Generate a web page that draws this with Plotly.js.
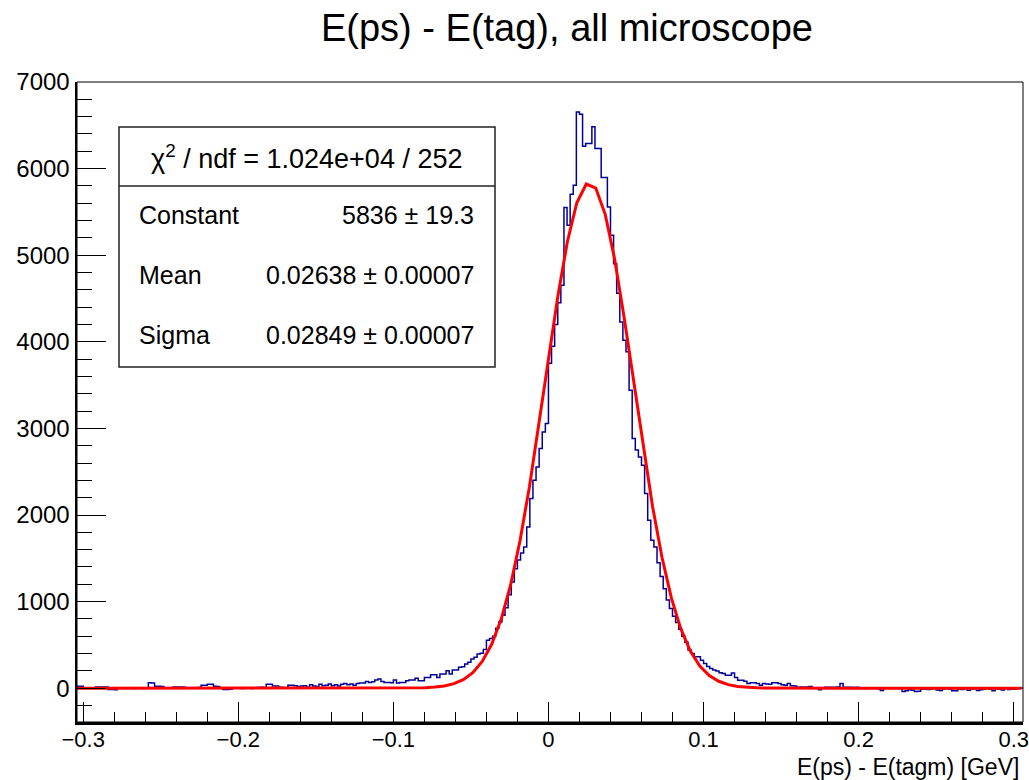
<!DOCTYPE html>
<html>
<head>
<meta charset="utf-8">
<script src="https://cdn.plot.ly/plotly-3.0.1.min.js"></script>
<style>
  html, body { margin: 0; padding: 0; background: #ffffff; }
  #chart { width: 1029px; height: 780px; }
</style>
</head>
<body>
<div id="chart"></div>
<script>
// ---- Histogram definition ----
const binLow = -0.304;      // lower edge of first bin [GeV]
const binWidth = 0.002;     // bin width [GeV]

// Bin contents, left to right (305 bins, -0.304 .. 0.306)
const tailLeftCounts = [
  23, 23, 0, 5, 3, 5, 15, 15, 15, 15, -15, -15, -18, 0,
  2, -3, 4, 0, -2, 5, 3, -4, 2,
  62, 60, 23, 23, 20, 5, 3, 6, 15, 15, 15, 12, 5, 4, 6, 5, 8, 35, 35, 46, 46, 23, 20, 5, -15, -15, -12, 5, 3,
  0, -2, 2, 0, -3, 1,
  8, 10, 8, 46, 46, 27, 27, 10, 8, 5, 35, 35, 30, 20, 25,
  30, 15, 40, 25, 20, 45, 30, 35, 50, 30, 40, 25, 45, 55, 40, 50, 35, 55
];
const riseLeftCounts = [
  60, 60, 79, 67, 75, 94, 106, 79, 67, 67,
  64, 94, 60, 67, 67, 87, 94, 94, 114, 87,
  87, 125, 125, 156, 156, 125, 164, 164, 202, 164,
  210, 210, 241, 249, 280, 299, 337, 357
];
const flankLeftCounts = [
  395, 404, 446, 554, 575, 600, 693, 766, 843, 930,
  1080, 1227, 1380, 1480, 1560, 1632, 1863, 2190, 2402, 2555,
  2768, 2960, 3056, 3753
];
const peakCounts = [
  3950, 4200, 4450, 4654, 5551, 5346, 5704, 5808, 6655, 6628,
  6259, 6290, 6290, 6482, 6232, 6232, 5897, 5897, 5558, 5231,
  4900, 4560, 4230, 4018, 3884, 3441, 2883, 2750, 2671, 2575,
  2248, 1940, 1709, 1632
];
const flankRightCounts = [
  1450, 1290, 1150, 1020, 920, 830, 760, 680, 600, 530,
  440, 401, 362, 362, 323, 285, 250, 227, 210, 199,
  180, 169, 150, 150, 177, 124, 93, 93, 80, 55,
  62, 62, 55, 35, 55, 50, 47, 62, 62, 55,
  40, 35, 55, 30, 27, 12, 15, 12, 14, 20,
  0, 2, -19, 5, 12, 12, 10, 12, 14, 55,
  12, 10, 12, 8, 12, 0, 2, -3, 0, 4,
  0, -5, -27, 0, 2, -4, 0, 3, -2, -39,
  -30, -19, -22, -39, -35
];
const tailRightCounts = [
  -12, -10, -15, -8, 0, -20, -25, -10, 5, -12,
  -30, -28, -8, -15, 0, -22, -10, -5, -25, -18,
  -10, 0, -12, -30, -5, -10, -20, 5, -15, -8,
  -12, 0, 3
];

// Fit results shown in the stats box
const fitChi2Text = "1.024e+04";
const fitNdf = 252;
const fitParamNames = ["Constant", "Mean", "Sigma"];
const fitParamValues = [5836, 0.02638, 0.02849];
const fitParamTexts = ["5836 \u00b1 19.3", "0.02638 \u00b1 0.00007", "0.02849 \u00b1 0.00007"];
const fitRange = [-0.305, 0.305];

// Axis definitions
const xRange = [-0.304, 0.306];
const yRange = [-390, 7000];
const titleText = "E(ps) - E(tag), all microscope";
const xTitleText = "E(ps) - E(tagm) [GeV]";

// ---- Build traces ----
const counts = [].concat(tailLeftCounts, riseLeftCounts, flankLeftCounts,
                         peakCounts, flankRightCounts, tailRightCounts);
const edges = [];
for (let i = 0; i <= counts.length; i++) edges.push(binLow + i * binWidth);
const histY = counts.concat([counts[counts.length - 1]]);

const histTrace = {
  x: edges, y: histY, type: "scatter", mode: "lines",
  line: { shape: "hv", color: "#000099", width: 1.5 },
  hoverinfo: "skip", showlegend: false
};

// Gaussian fit function evaluated with ROOT's default 100 points
const npx = 100;
const fx = [], fy = [];
for (let i = 0; i <= npx; i++) {
  const x = fitRange[0] + (fitRange[1] - fitRange[0]) * i / npx;
  const z = (x - fitParamValues[1]) / fitParamValues[2];
  fx.push(x);
  fy.push(fitParamValues[0] * Math.exp(-0.5 * z * z));
}
const fitTrace = {
  x: fx, y: fy, type: "scatter", mode: "lines",
  line: { color: "#ff0000", width: 3 },
  hoverinfo: "skip", showlegend: false
};

// ---- Layout ----
const W = 1029, H = 780;
const mL = 77, mR = 6, mT = 82, mB = 58;
const pw = W - mL - mR, ph = H - mT - mB;
const px = v => (v - mL) / pw;        // pixel -> paper x
const py = v => (H - mB - v) / ph;    // pixel -> paper y

const font = "Liberation Sans, Arial, Helvetica, sans-serif";

const boxL = 119, boxR = 495, boxT = 127, boxB = 367, boxDiv = 186;
const rowY = [215, 275, 335];

const annotations = [
  { text: "\u03c7<sup>2</sup> / ndf = " + fitChi2Text + " / " + fitNdf,
    xref: "paper", yref: "paper", x: px(306), y: py(157),
    xanchor: "center", yanchor: "middle", showarrow: false,
    font: { family: font, size: 27, color: "#000" } },
  { text: xTitleText, xref: "paper", yref: "paper", x: px(1021), y: py(767),
    xanchor: "right", yanchor: "middle", showarrow: false,
    font: { family: font, size: 23, color: "#000" } }
];
for (let i = 0; i < fitParamNames.length; i++) {
  annotations.push({ text: fitParamNames[i], xref: "paper", yref: "paper",
    x: px(137), y: py(rowY[i]), xanchor: "left", yanchor: "middle", showarrow: false,
    font: { family: font, size: 25, color: "#000" } });
  annotations.push({ text: fitParamTexts[i], xref: "paper", yref: "paper",
    x: px(476), y: py(rowY[i]), xanchor: "right", yanchor: "middle", showarrow: false,
    font: { family: font, size: 25, color: "#000" } });
}

const shapes = [
  { type: "rect", xref: "paper", yref: "paper", x0: 0, x1: 1, y0: 0, y1: 1,
    line: { color: "#000", width: 1 }, layer: "above" },
  { type: "rect", xref: "paper", yref: "paper", x0: px(boxL), x1: px(boxR),
    y0: py(boxB), y1: py(boxT), fillcolor: "#ffffff",
    line: { color: "#222", width: 1.5 }, layer: "above" },
  { type: "line", xref: "paper", yref: "paper", x0: px(boxL), x1: px(boxR),
    y0: py(boxDiv), y1: py(boxDiv), line: { color: "#222", width: 1.5 }, layer: "above" }
];

const layout = {
  width: W, height: H,
  margin: { l: mL, r: mR, t: mT, b: mB, pad: 0 },
  paper_bgcolor: "#ffffff", plot_bgcolor: "#ffffff",
  showlegend: false,
  title: { text: titleText, x: 567 / W, xanchor: "center", xref: "container",
           y: 1 - 28 / H, yanchor: "middle", yref: "container",
           font: { family: font, size: 38, color: "#000" } },
  xaxis: {
    range: xRange, showgrid: false, zeroline: false,
    showline: true, linecolor: "#000", linewidth: 2.5, mirror: false,
    ticks: "inside", ticklen: 20, tickwidth: 1, tickcolor: "#000",
    dtick: 0.1, tick0: 0, ticklabelstandoff: -4, ticklabeloverflow: "allow",
    minor: { ticks: "inside", ticklen: 10, tickwidth: 1, tickcolor: "#000", dtick: 0.02, tick0: 0, showgrid: false },
    tickfont: { family: font, size: 22, color: "#000" },
    fixedrange: true
  },
  yaxis: {
    range: yRange, showgrid: false, zeroline: false,
    showline: true, linecolor: "#000", linewidth: 2.5, mirror: false,
    ticks: "inside", ticklen: 29, tickwidth: 1, tickcolor: "#000",
    dtick: 1000, tick0: 0,
    minor: { ticks: "inside", ticklen: 15, tickwidth: 1, tickcolor: "#000", dtick: 200, tick0: 0, showgrid: false },
    tickfont: { family: font, size: 24, color: "#000" },
    fixedrange: true
  },
  shapes: shapes,
  annotations: annotations
};

Plotly.newPlot("chart", [histTrace, fitTrace], layout, { displayModeBar: false, staticPlot: true });
</script>
</body>
</html>
